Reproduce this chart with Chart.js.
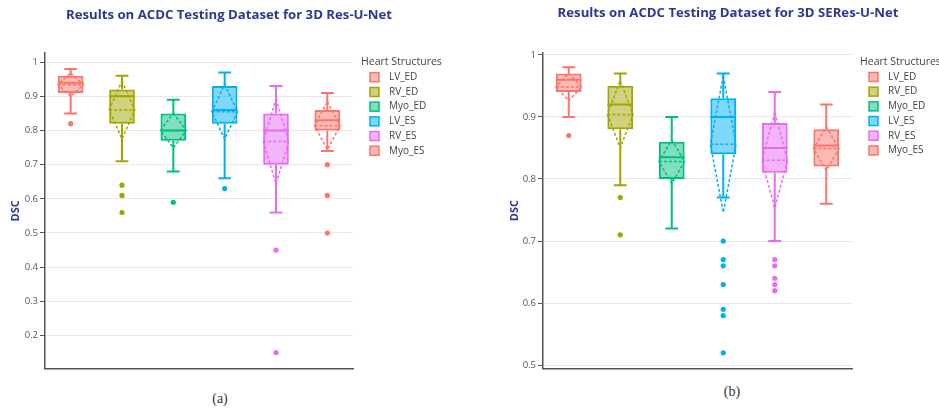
<!DOCTYPE html>
<html>
<head>
<meta charset="utf-8">
<script src="https://cdn.jsdelivr.net/npm/chart.js@4.4.0/dist/chart.umd.min.js"></script>
<style>
  body { margin: 0; width: 939px; height: 408px; background: #fff; overflow: hidden; position: relative; }
  .panel { position: absolute; top: 0; width: 458px; height: 376px; }
  .cap { position: absolute; width: 40px; text-align: center; font: normal 14px "Liberation Serif", serif; line-height: 16px; color: #333; }
</style>
</head>
<body>
<div class="panel" style="left:0"><canvas id="chartA"></canvas></div>
<div class="panel" style="left:499px"><canvas id="chartB"></canvas></div>
<div class="cap" style="left:200px; top:391px">(a)</div>
<div class="cap" style="left:712px; top:384px">(b)</div>
<script>
const categories = ['LV_ED', 'RV_ED', 'Myo_ED', 'LV_ES', 'RV_ES', 'Myo_ES'];
const colors = ['#F8766D', '#A3A500', '#00BF7D', '#00B0F6', '#E76BF3', '#F8766D'];

// (a) 3D Res-U-Net
const resLow = [0.85, 0.71, 0.68, 0.66, 0.56, 0.74];
const resQ1 = [0.91, 0.82, 0.77, 0.82, 0.70, 0.80];
const resMedian = [0.94, 0.90, 0.80, 0.86, 0.80, 0.83];
const resQ3 = [0.96, 0.92, 0.85, 0.93, 0.85, 0.86];
const resHigh = [0.98, 0.96, 0.89, 0.97, 0.93, 0.91];
const resMean = [0.934, 0.86, 0.80, 0.855, 0.768, 0.814];
const resSd = [0.034, 0.085, 0.051, 0.08, 0.124, 0.07];
const resOutliers = [[0.82], [0.64, 0.61, 0.56], [0.59], [0.63], [0.45, 0.15], [0.70, 0.61, 0.50]];

// (b) 3D SERes-U-Net
const seLow = [0.90, 0.79, 0.72, 0.77, 0.70, 0.76];
const seQ1 = [0.94, 0.88, 0.80, 0.84, 0.81, 0.82];
const seMedian = [0.96, 0.92, 0.835, 0.90, 0.85, 0.854];
const seQ3 = [0.97, 0.95, 0.86, 0.93, 0.89, 0.88];
const seHigh = [0.98, 0.97, 0.90, 0.97, 0.94, 0.92];
const seMean = [0.948, 0.904, 0.828, 0.856, 0.83, 0.849];
const seSd = [0.022, 0.054, 0.035, 0.11, 0.077, 0.035];
const seOutliers = [[0.87], [0.77, 0.71], [], [0.70, 0.67, 0.66, 0.63, 0.59, 0.58, 0.52], [0.67, 0.66, 0.64, 0.63, 0.62], []];

const titleColor = '#2b3990';

function fade(hex, a) {
    const n = parseInt(hex.slice(1), 16);
    return `rgba(${n >> 16}, ${(n >> 8) & 255}, ${n & 255}, ${a})`;
}

// whiskers, median, mean and sd diamond on top of the box bars
const boxExtras = {
    id: 'boxExtras',
    afterDatasetsDraw(chart) {
        const s = chart.config.options.boxStats;
        const x = chart.scales.x, y = chart.scales.y, ctx = chart.ctx;
        const bars = chart.getDatasetMeta(0).data;
        ctx.save();
        categories.forEach((c, i) => {
            const cx = x.getPixelForValue(i);
            const w = bars[i].width / 2;
            ctx.strokeStyle = colors[i];
            ctx.lineWidth = 2;
            ctx.setLineDash([]);
            ctx.beginPath();
            ctx.moveTo(cx, y.getPixelForValue(s.q3[i]));
            ctx.lineTo(cx, y.getPixelForValue(s.high[i]));
            ctx.moveTo(cx - w / 2, y.getPixelForValue(s.high[i]));
            ctx.lineTo(cx + w / 2, y.getPixelForValue(s.high[i]));
            ctx.moveTo(cx, y.getPixelForValue(s.q1[i]));
            ctx.lineTo(cx, y.getPixelForValue(s.low[i]));
            ctx.moveTo(cx - w / 2, y.getPixelForValue(s.low[i]));
            ctx.lineTo(cx + w / 2, y.getPixelForValue(s.low[i]));
            ctx.moveTo(cx - w, y.getPixelForValue(s.median[i]));
            ctx.lineTo(cx + w, y.getPixelForValue(s.median[i]));
            ctx.stroke();

            ctx.lineWidth = 1.5;
            ctx.setLineDash([3, 2]);
            const ym = y.getPixelForValue(s.mean[i]);
            ctx.beginPath();
            ctx.moveTo(cx - w, ym);
            ctx.lineTo(cx + w, ym);
            ctx.moveTo(cx, y.getPixelForValue(s.mean[i] + s.sd[i]));
            ctx.lineTo(cx + w, ym);
            ctx.lineTo(cx, y.getPixelForValue(s.mean[i] - s.sd[i]));
            ctx.lineTo(cx - w, ym);
            ctx.closePath();
            ctx.stroke();
        });
        ctx.restore();
    }
};

const boxLegend = {
    id: 'boxLegend',
    afterDraw(chart) {
        const ctx = chart.ctx, a = chart.chartArea;
        const x0 = a.right + 8;
        ctx.save();
        ctx.textBaseline = 'middle';
        ctx.font = '10.5px "Open Sans"';
        ctx.fillStyle = '#444';
        ctx.fillText('Heart Structures', x0, a.top + 9);
        ctx.font = '10px "Open Sans"';
        categories.forEach((c, i) => {
            const yy = a.top + 24 + i * 14.7;
            ctx.fillStyle = fade(colors[i], 0.5);
            ctx.fillRect(x0 + 9, yy - 4.5, 9, 9);
            ctx.strokeStyle = colors[i];
            ctx.lineWidth = 1.5;
            ctx.strokeRect(x0 + 9, yy - 4.5, 9, 9);
            ctx.fillStyle = '#444';
            ctx.fillText(c, x0 + 28, yy);
        });
        ctx.restore();
    }
};

function makeChart(id, title, st, outliers, yMin, yMax, pad) {
    const points = [];
    outliers.forEach((list, i) => list.forEach(v => points.push({ x: categories[i], y: v })));
    return new Chart(document.getElementById(id), {
        type: 'bar',
        data: {
            labels: categories,
            datasets: [{
                data: categories.map((c, i) => [st.q1[i], st.q3[i]]),
                backgroundColor: colors.map(c => fade(c, 0.5)),
                borderColor: colors,
                borderWidth: 2,
                borderSkipped: false,
                barPercentage: 0.5,
                categoryPercentage: 1
            }, {
                type: 'line',
                data: points,
                showLine: false,
                pointRadius: 2.6,
                pointBorderWidth: 0,
                pointBackgroundColor: points.map(p => colors[categories.indexOf(p.x)])
            }]
        },
        options: {
            responsive: true,
            maintainAspectRatio: false,
            animation: false,
            boxStats: st,
            layout: { padding: { left: 0, right: 0, top: 0, bottom: pad.bottom } },
            plugins: {
                legend: { display: false },
                tooltip: { enabled: false },
                title: {
                    display: true,
                    text: title,
                    color: titleColor,
                    font: { family: 'Open Sans', size: 13.2, weight: 'bold' },
                    padding: { top: pad.titleTop, bottom: pad.titleBottom }
                }
            },
            scales: {
                x: {
                    ticks: { display: false },
                    grid: { display: false, drawTicks: false },
                    border: { display: true, color: '#555', width: 1.5 }
                },
                y: {
                    min: yMin,
                    max: yMax,
                    afterFit: s => { s.width = pad.axis; },
                    ticks: {
                        stepSize: 0.1,
                        includeBounds: false,
                        color: '#555',
                        padding: 2,
                        font: { family: 'Open Sans', size: 9.5 },
                        callback: v => String(+v.toFixed(1))
                    },
                    grid: { color: '#ede6e8', tickColor: '#555', tickLength: 5 },
                    border: { color: '#555', width: 1.5 },
                    title: {
                        display: true,
                        text: 'DSC',
                        color: titleColor,
                        font: { family: 'Open Sans', size: 11, weight: 'bold' },
                        padding: { top: 9, bottom: 0 }
                    }
                },
                // empty space on the right that holds the legend
                legendSpace: {
                    type: 'linear',
                    position: 'right',
                    ticks: { display: false },
                    grid: { display: false, drawTicks: false },
                    border: { display: false },
                    afterFit: s => { s.width = 105; }
                }
            }
        },
        plugins: [boxExtras, boxLegend]
    });
}

makeChart('chartA', 'Results on ACDC Testing Dataset for 3D Res-U-Net',
    { low: resLow, q1: resQ1, median: resMedian, q3: resQ3, high: resHigh, mean: resMean, sd: resSd },
    resOutliers, 0.104, 1.026, { axis: 45, bottom: 6, titleTop: 7.2, titleBottom: 30.2 });

makeChart('chartB', 'Results on ACDC Testing Dataset for 3D SERes-U-Net',
    { low: seLow, q1: seQ1, median: seMedian, q3: seQ3, high: seHigh, mean: seMean, sd: seSd },
    seOutliers, 0.495, 1.003, { axis: 44, bottom: 7.7, titleTop: 5.5, titleBottom: 31.6 });
</script>
</body>
</html>
